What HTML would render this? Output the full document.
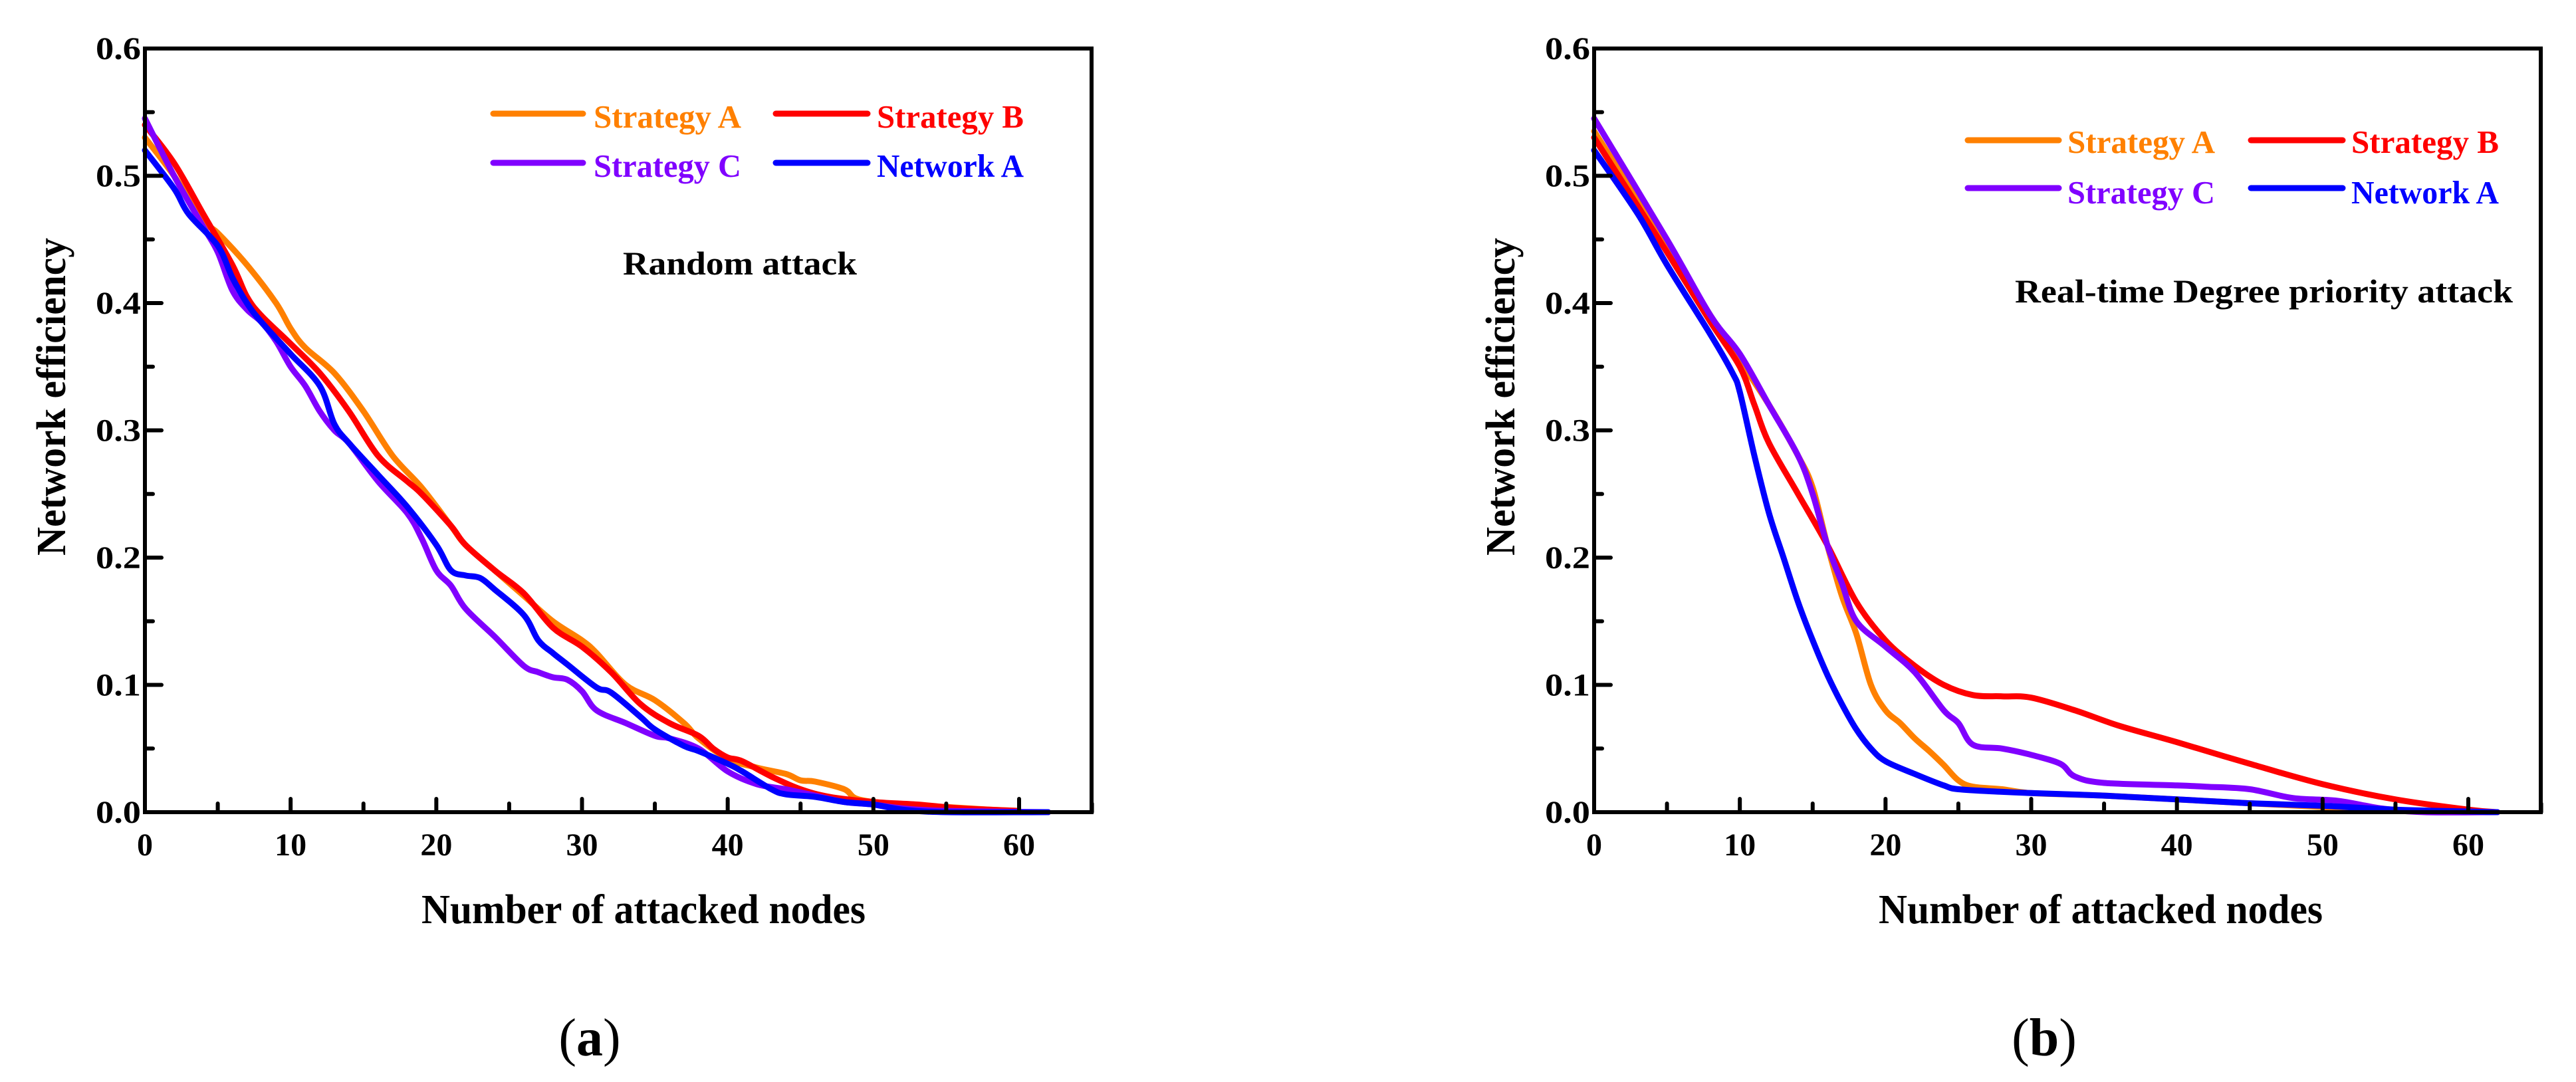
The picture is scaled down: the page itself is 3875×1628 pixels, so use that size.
<!DOCTYPE html>
<html><head><meta charset="utf-8"><style>
html,body{margin:0;padding:0;background:#fff;}
svg{display:block;font-family:"Liberation Serif",serif;font-weight:bold;}
</style></head><body>
<svg id="fig" width="3875" height="1628" viewBox="0 0 3875 1628" xmlns="http://www.w3.org/2000/svg">
<rect width="3875" height="1628" fill="#fff"/>
<g id="pa"></g>
<g id="pb"></g>
</svg>
<script>
// ---- data: panel a (Random attack) ----
const aStratAx=[0,2,4,5,7,9,10,11,13,15,17,19,21,22,24,26,28,30,31,33,35,37,38,40,42,44,45,46,48,49,52,55,58,60];
const aStratAy=[0.53,0.50,0.465,0.455,0.43,0.40,0.38,0.365,0.345,0.315,0.28,0.255,0.225,0.21,0.19,0.17,0.15,0.135,0.125,0.10,0.088,0.07,0.058,0.042,0.035,0.030,0.025,0.024,0.018,0.010,0.006,0.004,0.002,0.001];
const aStratBx=[0,2,4,6,7,8,10,12,14,16,18,19,21,22,24,26,28,30,32,34,36,38,39,40,41,43,45,47,50,53,56,60];
const aStratBy=[0.54,0.51,0.47,0.43,0.405,0.39,0.368,0.345,0.315,0.28,0.26,0.25,0.225,0.21,0.19,0.172,0.145,0.13,0.11,0.085,0.07,0.06,0.05,0.043,0.04,0.028,0.018,0.012,0.008,0.006,0.003,0.001];
const aStratCx=[0,2,4,5,6,7,8,9,10,11,12,13,14,16,18,19,20,21,22,24,26,27,28,29,30,31,33,35,36,38,40,42,44,46,48,50,52,55,62];
const aStratCy=[0.545,0.50,0.46,0.44,0.41,0.395,0.385,0.37,0.35,0.335,0.315,0.30,0.29,0.26,0.235,0.215,0.19,0.178,0.16,0.138,0.115,0.11,0.106,0.104,0.095,0.08,0.07,0.06,0.058,0.05,0.032,0.022,0.018,0.013,0.008,0.006,0.003,0.001,0.0];
const aNetAx=[0,2,3,5,6,7,8,10,12,13,14,16,18,20,21,22,23,24,26,27,28,29,31,32,34,35,37,38,40,41,43,44,46,48,50,52,55,62];
const aNetAy=[0.52,0.49,0.47,0.445,0.42,0.40,0.385,0.36,0.335,0.305,0.29,0.265,0.24,0.21,0.19,0.186,0.184,0.175,0.155,0.135,0.125,0.116,0.098,0.094,0.075,0.065,0.052,0.048,0.038,0.032,0.018,0.014,0.012,0.008,0.006,0.002,0.0,0.0];
// ---- data: panel b (Real-time Degree priority attack) ----
const bStratAx=[0,5,8,10,12,14,15,16,17,18,19,20,21,22,23,24,25,26,28,30,35,40,45,50,55,62];
const bStratAy=[0.535,0.445,0.39,0.355,0.32,0.28,0.255,0.21,0.17,0.14,0.10,0.08,0.07,0.058,0.048,0.037,0.025,0.02,0.018,0.015,0.013,0.01,0.007,0.004,0.001,0.0];
const bStratBx=[0,5,8,10,11,12,14,16,18,20,22,24,26,28,30,33,36,40,45,50,55,60,62];
const bStratBy=[0.53,0.44,0.385,0.35,0.32,0.29,0.25,0.21,0.165,0.135,0.115,0.10,0.092,0.091,0.09,0.08,0.068,0.055,0.038,0.022,0.01,0.002,0.0];
const bStratCx=[0,5,8,10,12,14,15,16,17,18,20,22,24,25,26,28,30,32,33,35,40,42,45,48,51,54,57,62];
const bStratCy=[0.545,0.45,0.39,0.36,0.32,0.28,0.25,0.21,0.18,0.15,0.13,0.11,0.08,0.07,0.053,0.05,0.045,0.038,0.028,0.023,0.021,0.02,0.018,0.011,0.009,0.003,0.0,0.0];
const bNetAx=[0,3,5,8,9.5,10,11,12,13,14,15,16,17,18,19,20,22,24,25,28,30,35,40,45,50,55,62];
const bNetAy=[0.52,0.47,0.43,0.375,0.345,0.33,0.28,0.235,0.20,0.165,0.135,0.108,0.085,0.065,0.05,0.04,0.03,0.021,0.018,0.016,0.015,0.013,0.01,0.007,0.005,0.002,0.0];
// ---- axis tick labels ----
const xTickVals=[0,10,20,30,40,50,60];
const yTickVals=[0.0,0.1,0.2,0.3,0.4,0.5,0.6];
const seriesNames=["Strategy A","Strategy B","Strategy C","Network A"];
const seriesColors=["#ff8000","#ff0000","#8000ff","#0000ff"];

const NS="http://www.w3.org/2000/svg";
function mk(parent,tag,attrs,text){const e=document.createElementNS(NS,tag);for(const k in attrs)e.setAttribute(k,attrs[k]);if(text!==undefined)e.textContent=text;parent.appendChild(e);return e;}

function smoothPath(P){
  let d="M"+P[0][0].toFixed(1)+","+P[0][1].toFixed(1);
  for(let i=0;i<P.length-1;i++){
    const p0=P[Math.max(0,i-1)],p1=P[i],p2=P[i+1],p3=P[Math.min(P.length-1,i+2)];
    const c1x=p1[0]+(p2[0]-p0[0])/6,c1y=p1[1]+(p2[1]-p0[1])/6;
    const c2x=p2[0]-(p3[0]-p1[0])/6,c2y=p2[1]-(p3[1]-p1[1])/6;
    d+=" C"+c1x.toFixed(1)+","+c1y.toFixed(1)+" "+c2x.toFixed(1)+","+c2y.toFixed(1)+" "+p2[0].toFixed(1)+","+p2[1].toFixed(1);
  }
  return d;
}

function panel(g,L,R,T,B,series,note,noteX,noteY,noteW,legend,label,labelX,titleX){
  const xs=v=>L+(v/60)*1315;
  const ys=v=>B-(v/0.6)*(B-T);
  series.forEach((s,i)=>{
    const P=s[0].map((x,j)=>[xs(x),ys(s[1][j])]);
    const pl=mk(g,"path",{d:smoothPath(P),fill:"none",stroke:seriesColors[i],"stroke-width":9,"stroke-linejoin":"round","stroke-linecap":"round"});
    
    
  });
  const fr=mk(g,"rect",{x:L,y:T,width:R-L,height:B-T,fill:"none",stroke:"#000","stroke-width":6});
  
  
  for(let v=0;v<=65;v+=5){
    const major=v%10===0;
    const t=mk(g,"line",{x1:xs(v),x2:xs(v),y1:B,y2:B-(major?20:13),stroke:"#000","stroke-width":6,"stroke-linecap":"round"});
    
    
  }
  xTickVals.forEach(v=>{
    const t=mk(g,"text",{x:xs(v),y:1287,"font-size":48,"text-anchor":"middle"},String(v));
    
    
  });
  for(let k=0;k<=12;k++){
    const v=k*0.05;const major=k%2===0;
    const t=mk(g,"line",{x1:L,x2:L+(major?25:12),y1:ys(v),y2:ys(v),stroke:"#000","stroke-width":6,"stroke-linecap":"round"});
    
    
  }
  yTickVals.forEach(v=>{
    const t=mk(g,"text",{x:L-6,y:ys(v)+16,"font-size":48,"text-anchor":"end",textLength:68,lengthAdjust:"spacingAndGlyphs"},v.toFixed(1));
    
    
  });
  const xt=mk(g,"text",{x:titleX,y:1389,"font-size":62,"text-anchor":"middle",textLength:668,lengthAdjust:"spacingAndGlyphs"},"Number of attacked nodes");
  
  
  const yt=mk(g,"text",{x:0,y:0,"font-size":62,"text-anchor":"middle",textLength:478,lengthAdjust:"spacingAndGlyphs",transform:"translate("+(L-120)+",597) rotate(-90)"},"Network efficiency");
  
  
  const nt=mk(g,"text",{x:noteX,y:noteY,"font-size":50,textLength:noteW,lengthAdjust:"spacingAndGlyphs"},note);
  
  
  legend.forEach((e,i)=>{
    const ln=mk(g,"line",{x1:e[0],x2:e[1],y1:e[2],y2:e[2],stroke:seriesColors[i],"stroke-width":9,"stroke-linecap":"round"});
    
    
    const tx=mk(g,"text",{x:e[3],y:e[4],"font-size":49,fill:seriesColors[i],textLength:e[5],lengthAdjust:"spacingAndGlyphs"},seriesNames[i]);
    
    
  });
  const pl=mk(g,"text",{x:labelX,y:1588,"font-size":80,"font-weight":"normal","text-anchor":"middle"});
  mk(pl,"tspan",{},"(");
  mk(pl,"tspan",{"font-weight":"bold"},label);
  mk(pl,"tspan",{},")");
  
  
}

panel(document.getElementById('pa'),218,1642,73,1222,
 [[aStratAx,aStratAy],[aStratBx,aStratBy],[aStratCx,aStratCy],[aNetAx,aNetAy]],
 "Random attack",937,413,352,
 [[742,877,171,893,192,222],[1167,1305,171,1319,192,221],[742,877,245,893,266,222],[1167,1305,245,1319,266,221]],
 "a",887,968);
panel(document.getElementById('pb'),2398,3822,73,1222,
 [[bStratAx,bStratAy],[bStratBx,bStratBy],[bStratCx,bStratCy],[bNetAx,bNetAy]],
 "Real-time Degree priority attack",3031,455,749,
 [[2960,3097,211,3110,230,222],[3386,3524,211,3537,230,222],[2960,3097,283,3110,306,222],[3386,3524,283,3537,306,222]],
 "b",3075,3160);
</script>
</body></html>
